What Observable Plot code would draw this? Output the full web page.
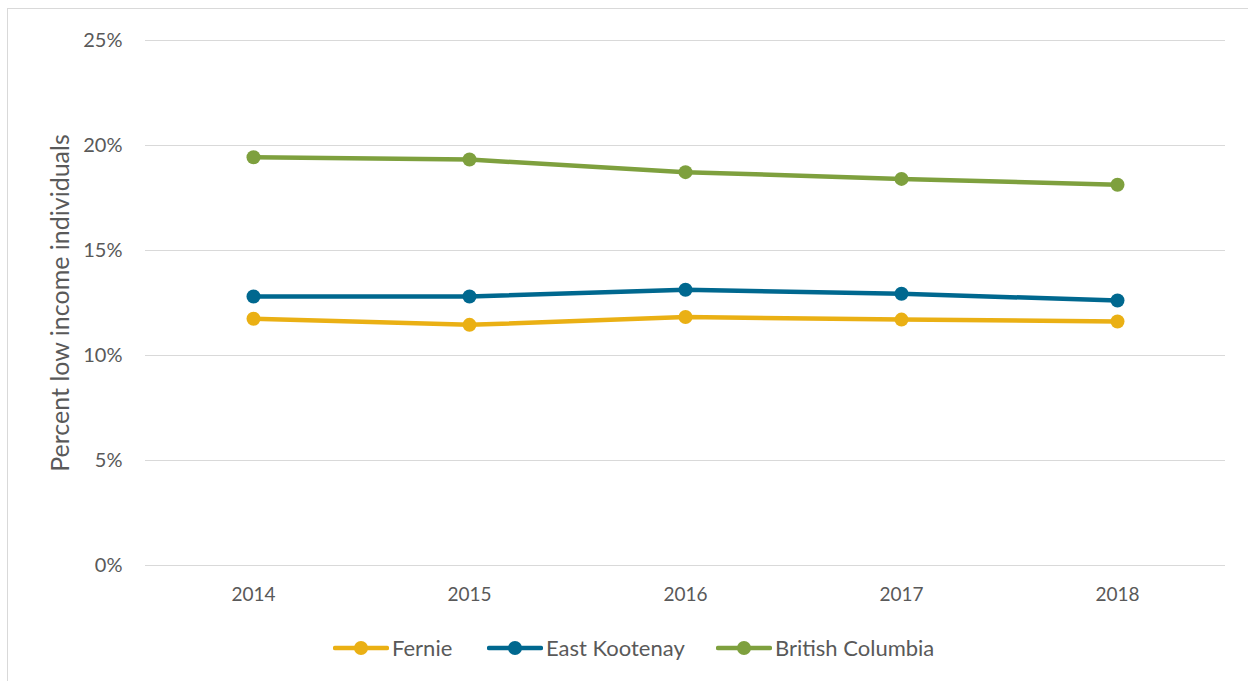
<!DOCTYPE html>
<html>
<head>
<meta charset="utf-8">
<script src="https://cdn.jsdelivr.net/npm/d3@7"></script>
<script src="https://cdn.jsdelivr.net/npm/@observablehq/plot@0.6"></script>
<style>
  html, body { margin: 0; padding: 0; background: #fff; overflow: hidden; }
  body { width: 1248px; height: 681px; position: relative; font-family: Lato, "Open Sans", sans-serif; }
  #frame { position: absolute; left: 7px; top: 8px; width: 1260px; height: 700px; border-left: 1.5px solid #d9d9d9; border-top: 1.5px solid #d9d9d9; box-sizing: border-box; }
  #chart { position: absolute; left: 0; top: 0; }
  #legend { position: absolute; left: 0; top: 634px; width: 1248px; height: 26px; font-size: 22px; color: #595959; }
  .item { position: absolute; top: 0; display: flex; align-items: center; white-space: nowrap; }
  .item svg { margin-right: 3px; }
</style>
</head>
<body>
<div id="frame"></div>
<div id="chart"></div>
<div id="legend"></div>
<script>
const years = ["2014", "2015", "2016", "2017", "2018"];
const seriesNames = ["Fernie", "East Kootenay", "British Columbia"];
const colors = ["#EAB014", "#00688F", "#7EA03E"];
const fernie = [11.75, 11.46, 11.83, 11.71, 11.62];
const eastKootenay = [12.81, 12.81, 13.13, 12.94, 12.62];
const britishColumbia = [19.44, 19.33, 18.73, 18.41, 18.13];
const yTicks = [0, 5, 10, 15, 20, 25];

const valuesBySeries = [fernie, eastKootenay, britishColumbia];
const data = [];
seriesNames.forEach((s, i) => {
  years.forEach((y, j) => data.push({series: s, year: y, value: valuesBySeries[i][j]}));
});

const chart = Plot.plot({
  width: 1248,
  height: 620,
  marginTop: 40,
  marginBottom: 55,
  marginLeft: 145,
  marginRight: 23,
  style: {fontFamily: "Lato, 'Open Sans', sans-serif", fontSize: "19px", color: "#595959", background: "transparent"},
  x: {type: "point", domain: years, padding: 0.5},
  y: {domain: [0, 25]},
  color: {domain: seriesNames, range: colors},
  marks: [
    Plot.gridY(yTicks, {stroke: "#d9d9d9", strokeOpacity: 1, strokeWidth: 1.2}),
    Plot.axisX({tickSize: 0, tickPadding: 22, label: null, fontSize: 19}),
    Plot.axisY(yTicks, {tickSize: 0, tickPadding: 23, tickFormat: d => d + "%", label: null, fontSize: 20}),
    Plot.text(["Percent low income individuals"], {frameAnchor: "left", dx: -85, rotate: -90, textAnchor: "middle", fontSize: 25, fill: "#595959"}),
    Plot.line(data, {x: "year", y: "value", stroke: "series", strokeWidth: 4.5, strokeLinejoin: "round"}),
    Plot.dot(data, {x: "year", y: "value", fill: "series", r: 7})
  ]
});
document.getElementById("chart").appendChild(chart);

const legendLefts = [333, 487, 716];
const legend = document.getElementById("legend");
seriesNames.forEach((s, i) => {
  const item = document.createElement("div");
  item.className = "item";
  item.style.left = legendLefts[i] + "px";
  item.innerHTML = `<svg width="56" height="26"><line x1="2" x2="54" y1="13" y2="13" stroke="${colors[i]}" stroke-width="4.5" stroke-linecap="round"/><circle cx="28" cy="13" r="7" fill="${colors[i]}"/></svg><span>${s}</span>`;
  legend.appendChild(item);
});
</script>
</body>
</html>
